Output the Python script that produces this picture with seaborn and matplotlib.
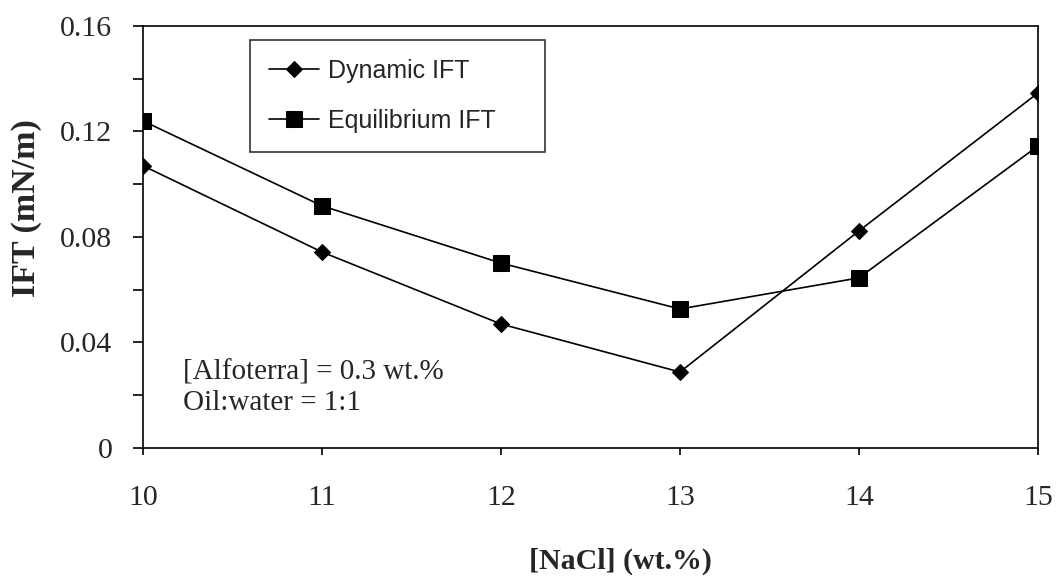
import matplotlib
matplotlib.use("Agg")
import matplotlib.pyplot as plt
import seaborn as sns

nacl = [10, 11, 12, 13, 14, 15]
dynamic_ift = [0.107, 0.0743, 0.047, 0.0288, 0.0823, 0.1346]
equilibrium_ift = [0.124, 0.0918, 0.0701, 0.0527, 0.0645, 0.1145]
y_ticks = [0, 0.04, 0.08, 0.12, 0.16]
y_tick_labels = ["0", "0.04", "0.08", "0.12", "0.16"]
y_minor_ticks = [0.02, 0.06, 0.10, 0.14]
x_ticks = [10, 11, 12, 13, 14, 15]
series_names = ["Dynamic IFT", "Equilibrium IFT"]
note_lines = ["[Alfoterra] = 0.3 wt.%", "Oil:water = 1:1"]

sns.set_theme(style="white")
plt.rcParams['font.family'] = ['Liberation Serif', 'DejaVu Serif']

fig = plt.figure(figsize=(10.6, 5.77), dpi=100)
ax = fig.add_axes([0.1349, 0.2236, 0.9792 - 0.1349, 0.955 - 0.2236])

sns.lineplot(x=nacl, y=dynamic_ift, ax=ax, color="black", marker="D", markersize=8,
             markeredgecolor="black", markerfacecolor="black", linewidth=1.2, label=series_names[0])
sns.lineplot(x=nacl, y=equilibrium_ift, ax=ax, color="black", marker="s", markersize=11,
             markeredgecolor="black", markerfacecolor="black", linewidth=1.2, label=series_names[1])

ax.set_xlim(10, 15)
ax.set_ylim(0, 0.16)
ax.set_xticks(x_ticks)
ax.set_xticklabels([str(v) for v in x_ticks], fontsize=21.5)
ax.set_yticks(y_ticks)
ax.set_yticklabels(y_tick_labels, fontsize=21.5)
ax.set_yticks(y_minor_ticks, minor=True)
ax.tick_params(axis="y", which="both", direction="out", length=7, width=1.2, color="black", left=True, pad=15)
ax.tick_params(axis="x", which="major", direction="out", length=5, width=1.2, color="black", bottom=True, pad=22)

for s in ax.spines.values():
    s.set_color("black")
    s.set_linewidth(1.2)

ax.set_xlabel("[NaCl] (wt.%)", fontsize=21.5, fontweight="bold")
ax.xaxis.set_label_coords(0.534, -0.237)
ax.set_ylabel("IFT (mN/m)", fontsize=24.5, fontweight="bold")
ax.yaxis.set_label_coords(-0.113, 0.569)

leg = ax.legend(loc="upper left", bbox_to_anchor=(0.1196, 0.706, 0.3296, 0.261), mode="expand",
                borderaxespad=0, frameon=True, fancybox=False, edgecolor="black",
                prop={"family": "Liberation Sans", "size": 18},
                borderpad=0.75, labelspacing=1.05, handlelength=2.0, handletextpad=0.35)
leg.get_frame().set_linewidth(1.2)

ax.text(0.0447, 0.178, note_lines[0], transform=ax.transAxes, fontsize=21, va="center", ha="left")
ax.text(0.0447, 0.107, note_lines[1], transform=ax.transAxes, fontsize=21, va="center", ha="left")

fig.savefig("out.png", dpi=100, facecolor="white")
